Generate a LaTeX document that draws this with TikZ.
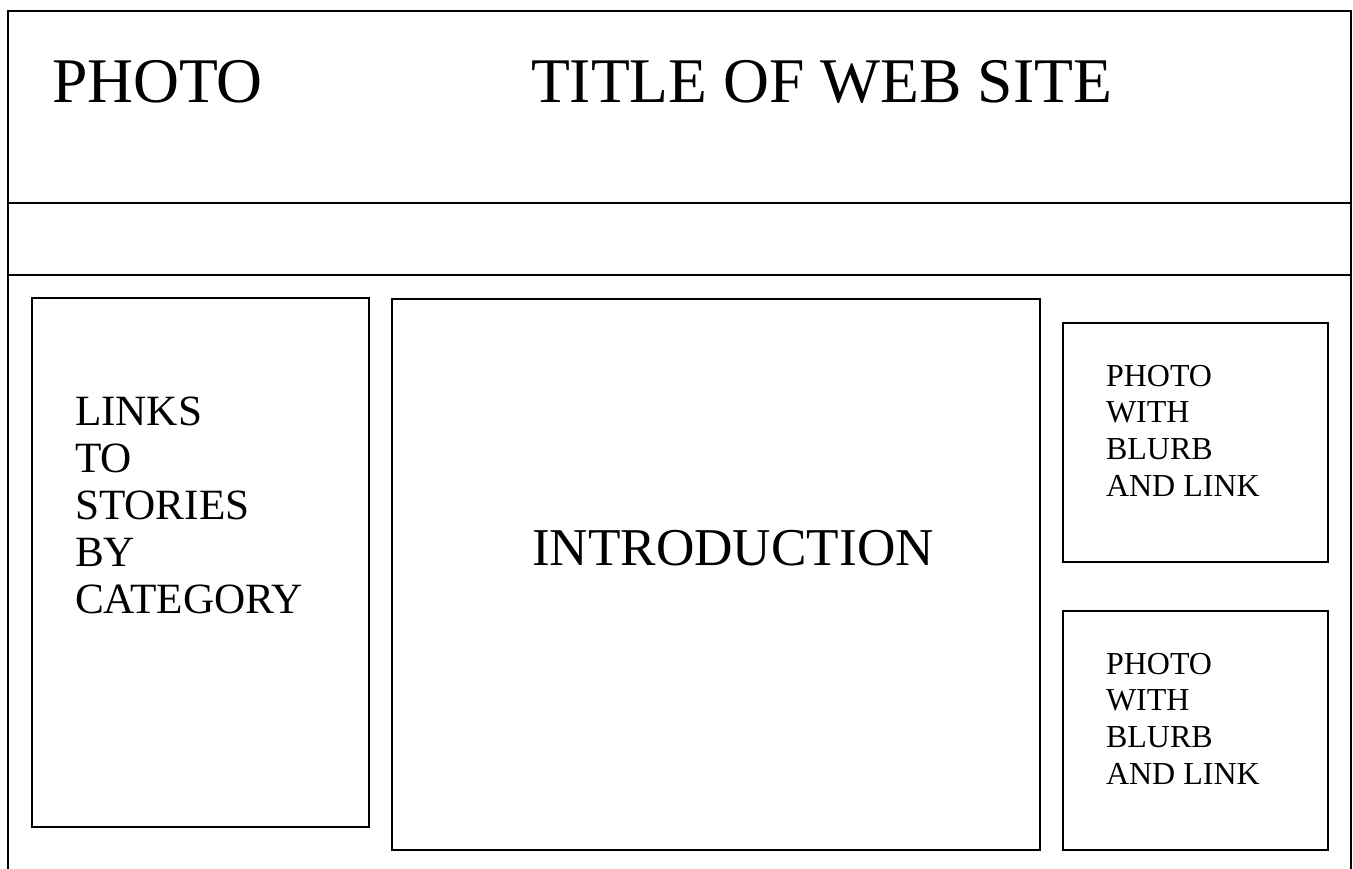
\documentclass[tikz,border=0pt]{standalone}
\usepackage{fontspec}
\setmainfont{Liberation Serif}
\newcommand{\linestack}[3]{\vtop{\fontsize{#1}{#2}\selectfont\baselineskip=#2pt\relax #3}}
\begin{document}
\begin{tikzpicture}[x=1pt,y=-1pt,
  frame/.style={line width=2.2pt},
  panel/.style={draw,line width=1.6pt},
  txt/.style={anchor=base west,inner sep=0pt,outer sep=0pt}]
\useasboundingbox (0,0) rectangle (1353,869);
% outer frame (open at bottom)
\coordinate (bl) at (8,869);
\coordinate (tl) at (8,11);
\coordinate (tr) at (1351,11);
\coordinate (br) at (1351,869);
\draw[frame,line join=miter] (bl) -- (tl) -- (tr) -- (br);
\coordinate (h1l) at (8,203);
\coordinate (h1r) at (1351,203);
\coordinate (h2l) at (8,275);
\coordinate (h2r) at (1351,275);
\draw[frame] (h1l) -- (h1r);
\draw[frame] (h2l) -- (h2r);
% panels
\draw[panel] (32,298) rectangle (369,827);
\draw[panel] (392,299) rectangle (1040,850);
\draw[panel] (1063,323) rectangle (1328,562);
\draw[panel] (1063,611) rectangle (1328,850);
% texts
\node[txt] (photo) at (52,103) {\fontsize{63.6}{72}\selectfont PHOTO};
\node[txt] (title) at (531,103) {\fontsize{63.6}{72}\selectfont TITLE OF WEB SITE};
\node[txt] (links) at (75,425) {\linestack{43.2}{47.2}{\hbox{LINKS}\hbox{TO}\hbox{STORIES}\hbox{BY}\hbox{CATEGORY}}};
\node[txt] (intro) at (532,565) {\fontsize{53.2}{60}\selectfont INTRODUCTION};
\node[txt] (blurb1) at (1106,386) {\linestack{32}{36.7}{\hbox{PHOTO}\hbox{WITH}\hbox{BLURB}\hbox{AND LINK}}};
\node[txt] (blurb2) at (1106,674) {\linestack{32}{36.7}{\hbox{PHOTO}\hbox{WITH}\hbox{BLURB}\hbox{AND LINK}}};
\end{tikzpicture}
\end{document}
